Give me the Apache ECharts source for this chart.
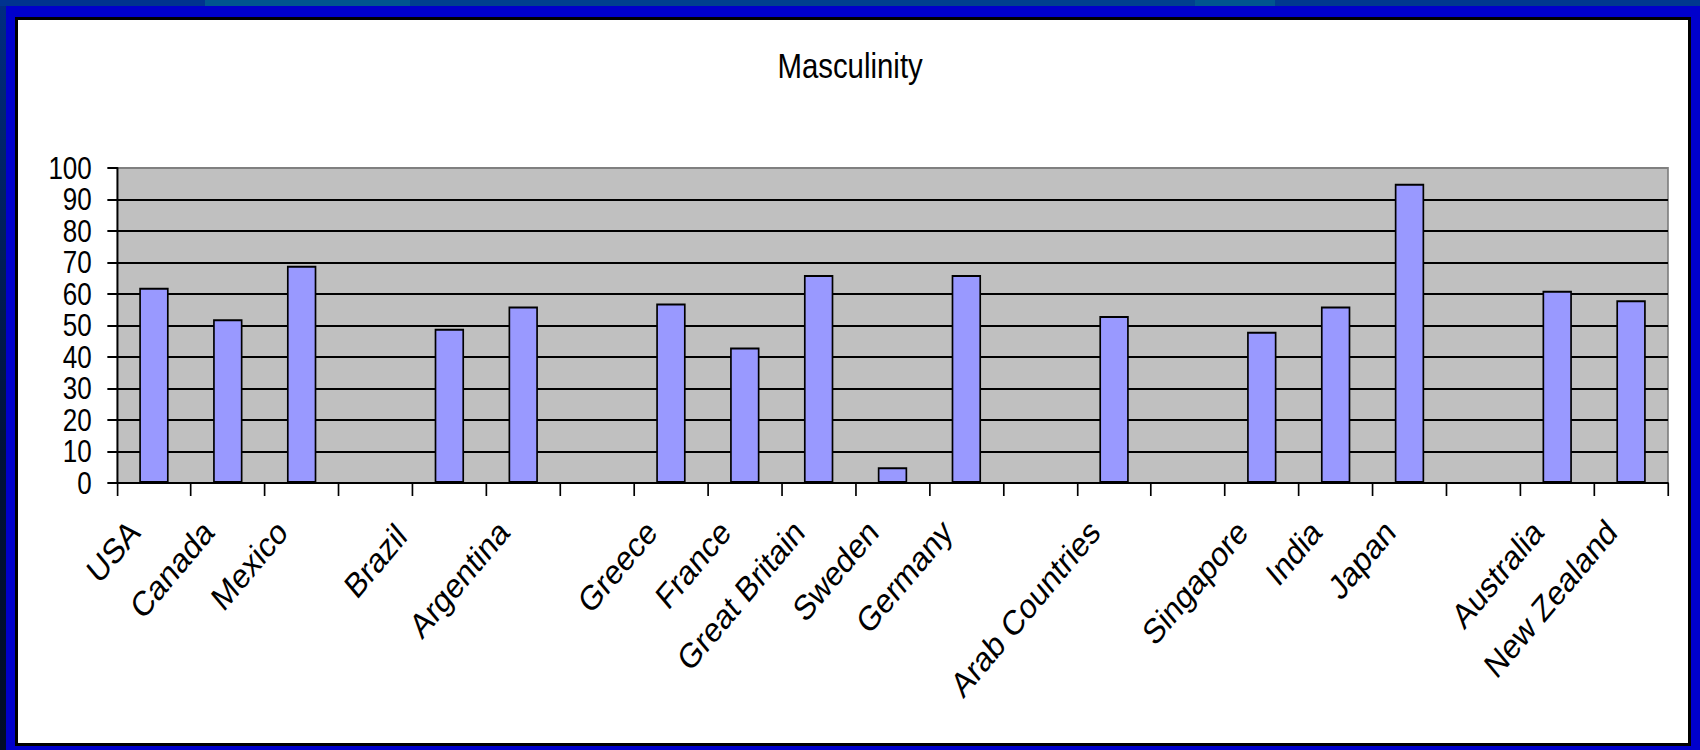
<!DOCTYPE html>
<html>
<head>
<meta charset="utf-8">
<title>Masculinity</title>
<script src="https://cdn.jsdelivr.net/npm/echarts@6/dist/echarts.min.js"></script>
<style>
  html, body { margin: 0; padding: 0; }
  body {
    width: 1700px; height: 750px; overflow: hidden; position: relative;
    background: linear-gradient(to right, #00338f 0, #00338f 205px, #00558f 205px, #00558f 410px,
      #00408f 410px, #00408f 1195px, #00558f 1195px, #00558f 1275px, #00388f 1275px);
  }
  #leftStrip { position: absolute; left: 0; top: 6px; width: 6px; height: 744px;
    background: linear-gradient(to bottom, #002c80, #00123a 60%, #000c28); }
  #frame { position: absolute; left: 6px; top: 6px; width: 1694px; height: 744px; background: #0000cc; }
  #panel { position: absolute; left: 15px; top: 17px; width: 1670px; height: 723px;
    background: #ffffff; border: 3px solid #000000; }
  /* the chart is laid out wider and squeezed horizontally */
  #chart { position: absolute; left: 0; top: 0; width: 2024px; height: 750px;
    transform: scaleX(0.84); transform-origin: 0 0; }
</style>
</head>
<body>
<div id="leftStrip"></div>
<div id="frame"></div>
<div id="panel"></div>
<div id="chart"></div>
<script>
// Hofstede masculinity index by country; blank entries are spacer slots between regions
const categories = ['USA', 'Canada', 'Mexico', '', 'Brazil', 'Argentina', '',
  'Greece', 'France', 'Great Britain', 'Sweden', 'Germany', '', 'Arab Countries', '',
  'Singapore', 'India', 'Japan', '', 'Australia', 'New Zealand'];
const masculinity = [62, 52, 69, null, 49, 56, null,
  57, 43, 66, 5, 66, null, 53, null,
  48, 56, 95, null, 61, 58];
const yMin = 0;
const yMax = 100;
const yStep = 10;

const FONT = '"Liberation Sans", Arial, sans-serif';

// black gridlines, except the top edge of the plot which is grey
const gridLineColors = [];
for (let v = yMin; v <= yMax; v += yStep) gridLineColors.push(v === yMax ? '#808080' : '#000000');

const chart = echarts.init(document.getElementById('chart'), null, { renderer: 'svg' });
chart.setOption({
  animation: false,
  backgroundColor: 'transparent',
  title: {
    text: 'Masculinity',
    left: 'center',
    top: 44,
    textStyle: { fontFamily: FONT, fontSize: 35, fontWeight: 'normal', color: '#000000' }
  },
  grid: {
    left: 139.3,
    right: 38.3,
    top: 168,
    bottom: 267,
    show: true,
    backgroundColor: '#c0c0c0',
    borderColor: '#808080',
    borderWidth: 2
  },
  xAxis: {
    type: 'category',
    data: categories,
    boundaryGap: true,
    axisLine: { lineStyle: { color: '#000000', width: 2 } },
    axisTick: { show: true, length: 13, interval: 0, lineStyle: { color: '#000000', width: 2 } },
    axisLabel: {
      interval: 0,
      rotate: 45,
      margin: 32,
      padding: [0, 24, 17, 0],
      hideOverlap: false,
      fontFamily: FONT,
      fontSize: 35,
      color: '#000000',
      // the Brazil label sits a little further left than the others
      formatter: (value) => (value === 'Brazil' ? '{shifted|' + value + '}' : value),
      rich: {
        shifted: { fontFamily: FONT, fontSize: 35, color: '#000000', padding: [0, 27, 42, 0] }
      }
    },
    splitLine: { show: false }
  },
  yAxis: {
    type: 'value',
    min: yMin,
    max: yMax,
    interval: yStep,
    axisLine: { show: true, lineStyle: { color: '#000000', width: 2 } },
    axisTick: { show: true, length: 11.5, lineStyle: { color: '#000000', width: 2 } },
    axisLabel: {
      margin: 30,
      showMinLabel: true,
      showMaxLabel: true,
      hideOverlap: false,
      fontFamily: FONT,
      fontSize: 31,
      color: '#000000'
    },
    splitLine: { show: true, lineStyle: { color: gridLineColors, width: 2 } }
  },
  series: [{
    type: 'bar',
    data: masculinity,
    barWidth: 35,
    itemStyle: { color: '#9999ff', borderColor: '#000000', borderWidth: 2 }
  }]
});
</script>
</body>
</html>
